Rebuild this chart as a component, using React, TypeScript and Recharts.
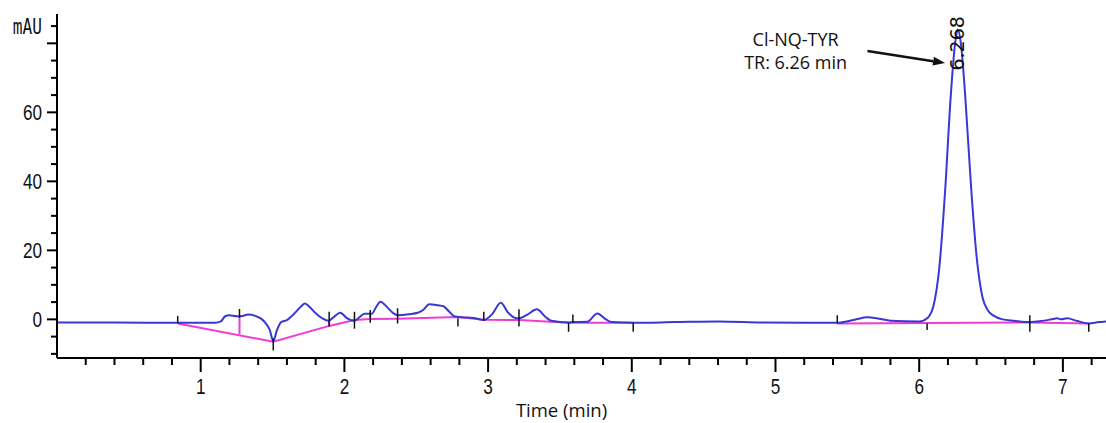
import React from "react";
import { LineChart, Line, XAxis, YAxis, ReferenceLine, ReferenceDot, Label } from "recharts";

// blue detector trace (min, mAU)
const traceTimes = [
  0, 0.4, 0.84, 1.1, 1.14, 1.17, 1.2, 1.25, 1.29, 1.33, 1.38, 1.42, 1.45, 1.48, 1.505, 1.53, 1.56, 1.6,
  1.65, 1.7, 1.725, 1.76, 1.8, 1.85, 1.89, 1.93, 1.97, 2.02, 2.07, 2.11, 2.14, 2.19, 2.22, 2.25, 2.3,
  2.34, 2.37, 2.45, 2.51, 2.55, 2.59, 2.65, 2.69, 2.73, 2.77, 2.82, 2.9, 2.97, 3.03, 3.088, 3.14, 3.19,
  3.215, 3.27, 3.34, 3.4, 3.44, 3.56, 3.59, 3.69, 3.76, 3.82, 3.86, 4.01, 4.3, 4.6, 4.9, 5.2, 5.43,
  5.55, 5.64, 5.72, 5.8, 6.0, 6.06, 6.1, 6.14, 6.18, 6.22, 6.25, 6.268, 6.29, 6.32, 6.36, 6.4, 6.44,
  6.48, 6.52, 6.58, 6.66, 6.77, 6.85, 6.92, 6.96, 6.99, 7.03, 7.1, 7.18, 7.25, 7.3,
];
const traceMau = [
  -0.9, -0.9, -1.0, -1.0, -0.6, 0.9, 1.2, 0.9, 1.0, 1.4, 1.0, 0.2, -1.0, -3.0, -6.3, -3.2, -0.8, -0.2,
  1.6, 3.8, 4.6, 3.5, 1.8, 0.2, -0.4, 0.8, 1.9, 0.3, -0.4, 0.8, 1.6, 1.6, 3.5, 5.1, 3.4,
  1.8, 1.2, 1.5, 1.9, 2.8, 4.4, 4.1, 3.8, 2.2, 0.8, 0.6, 0.4, -0.2, 1.6, 4.8, 1.9, 0.4,
  0.3, 1.3, 2.9, 0.7, -0.4, -0.9, -0.8, -0.7, 1.7, 0.0, -0.8, -1.0, -0.8, -0.6, -0.9, -1.0, -1.0,
  -0.1, 0.6, 0.2, -0.4, -0.6, 0.5, 4.0, 15, 37, 65, 80, 84, 80, 65, 39, 18, 6.5,
  2.5, 1.0, 0.0, -0.4, -0.8, -0.5, 0.0, 0.3, 0.0, 0.3, -0.5, -1.2, -0.8, -0.6,
];

// magenta integration baseline (null = gap)
const baseTimes = [0.84, 1.505, 1.894, 2.07, 2.18, 2.37, 2.79, 2.97, 3.215, 3.56, 4.01, 4.5, 5.43, 6.77, 7.18];
const baseMau = [-1.2, -6.5, -1.9, -0.2, 0.1, 0.2, 0.7, -0.1, -0.2, -1.0, -1.0, null, -1.2, -0.9, -1.2];

// magenta drop lines
const dropTimes = [1.27, 1.894, 2.18];
const dropTop = [0.8, -0.4, 1.5];
const dropBottom = [-4.3, -2.0, -0.3];

// black integration event marks
const eventTimes = [0.84, 1.27, 1.505, 1.894, 2.07, 2.18, 2.37, 2.79, 2.97, 3.215, 3.56, 3.59, 4.01, 5.43, 6.055, 6.77, 7.18];
const eventHigh = [1.0, 3.0, -5.5, 2.2, 2.2, 2.7, 3.2, 0.3, 2.2, 2.9, -1.0, 1.4, -1.0, 1.2, -1.2, 1.2, -1.2];
const eventLow = [-1.2, 0.5, -9.0, -2.1, -2.7, -1.0, -1.2, -2.1, -0.4, -2.1, -3.6, -1.0, -3.6, -1.2, -3.1, -3.6, -3.6];

const xTicks = [
  0.2, 0.4, 0.6, 0.8, 1, 1.2, 1.4, 1.6, 1.8, 2, 2.2, 2.4, 2.6, 2.8, 3, 3.2, 3.4, 3.6,
  3.8, 4, 4.2, 4.4, 4.6, 4.8, 5, 5.2, 5.4, 5.6, 5.8, 6, 6.2, 6.4, 6.6, 6.8, 7, 7.2,
];
const yTicks = [-10, -5, 0, 5, 10, 15, 20, 25, 30, 35, 40, 45, 50, 55, 60, 65, 70, 75, 80, 85];
const yLabels = [0, 20, 40, 60];

const peakTime = 6.268;
const peakLabel = "6.268";
const compoundName = "Cl-NQ-TYR";
const compoundRT = "TR: 6.26 min";

const trace = traceTimes.map((t, i) => ({ t, v: traceMau[i] }));
const baseline = baseTimes.map((t, i) => ({ t, v: baseMau[i] }));

const tickFont = "'Liberation Sans', Arial, sans-serif";

function YTick({ x, y, payload }: any) {
  const v = payload.value;
  const major = v % 20 === 0;
  return (
    <g>
      <line x1={x - (major ? 10 : 6)} x2={x} y1={y} y2={y} stroke="#000" strokeWidth={2} />
      {yLabels.includes(v) ? (
        <g transform={`translate(${x - 15},${y}) scale(0.78,1)`}>
          <text x={0} y={0} dy="0.36em" textAnchor="end" fontSize={22} fontFamily={tickFont} fill="#111">
            {v}
          </text>
        </g>
      ) : null}
      {v === 85 ? (
        <g transform={`translate(${x - 15},${y}) scale(0.85,1.1)`}>
          <text x={0} y={0} dy="0.36em" textAnchor="end" fontSize={19} fontFamily="'DejaVu Sans Mono', monospace" fill="#111">
            mAU
          </text>
        </g>
      ) : null}
    </g>
  );
}

function XTick({ x, y, payload }: any) {
  const v = payload.value;
  const major = Math.abs(v - Math.round(v)) < 1e-6;
  return (
    <g>
      <line x1={x} x2={x} y1={y} y2={y + (major ? 14 : 7)} stroke="#000" strokeWidth={2} />
      {major ? (
        <g transform={`translate(${x},${y + 36}) scale(0.78,1)`}>
          <text x={0} y={0} textAnchor="middle" fontSize={22} fontFamily={tickFont} fill="#111">
            {Math.round(v)}
          </text>
        </g>
      ) : null}
    </g>
  );
}

function Arrow(props: any) {
  const { x1, y1, x2, y2 } = props;
  const ang = Math.atan2(y2 - y1, x2 - x1);
  const L = 12;
  const Wd = 4.5;
  const bx = x2 - L * Math.cos(ang);
  const by = y2 - L * Math.sin(ang);
  const px = -Math.sin(ang) * Wd;
  const py = Math.cos(ang) * Wd;
  return (
    <g>
      <line x1={x1} y1={y1} x2={bx} y2={by} stroke="#111" strokeWidth={2.5} />
      <polygon points={`${x2},${y2} ${bx + px},${by + py} ${bx - px},${by - py}`} fill="#111" />
    </g>
  );
}

const annoFont = "'Open Sans', sans-serif";

export default function App() {
  return (
    <div style={{ position: "absolute", left: 0, top: 0, width: 1106, height: 423, background: "#fff" }}>
      <LineChart width={1106} height={423} margin={{ top: 14, right: 0, bottom: 0, left: 0 }}>
        <XAxis
          dataKey="t"
          type="number"
          domain={[0, 7.3]}
          allowDataOverflow
          ticks={xTicks}
          interval={0}
          tickSize={0}
          tickMargin={0}
          tickLine={false}
          tick={<XTick />}
          height={65}
          axisLine={{ stroke: "#000", strokeWidth: 2 }}
        >
          <Label
            content={({ viewBox }: any) => (
              <text
                x={viewBox.x + viewBox.width / 2 - 20}
                y={viewBox.y + 59}
                textAnchor="middle"
                fontSize={18.5}
                fontFamily={annoFont}
                fill="#111"
              >
                Time (min)
              </text>
            )}
          />
        </XAxis>
        <YAxis
          type="number"
          domain={[-11.2, 88.5]}
          allowDataOverflow
          ticks={yTicks}
          interval={0}
          tickSize={0}
          tickMargin={0}
          tickLine={false}
          tick={<YTick />}
          width={57}
          axisLine={{ stroke: "#000", strokeWidth: 2 }}
        />
        <Line
          data={baseline}
          dataKey="v"
          type="linear"
          stroke="#f03cd2"
          strokeWidth={2}
          dot={false}
          connectNulls={false}
          isAnimationActive={false}
        />
        {dropTimes.map((t, i) => (
          <ReferenceLine
            key={`d${i}`}
            segment={[{ x: t, y: dropTop[i] }, { x: t, y: dropBottom[i] }]}
            stroke="#f03cd2"
            strokeWidth={2}
          />
        ))}
        <Line
          data={trace}
          dataKey="v"
          type="monotone"
          stroke="#3838d4"
          strokeWidth={2}
          dot={false}
          isAnimationActive={false}
        />
        {eventTimes.map((t, i) => (
          <ReferenceLine
            key={`e${i}`}
            segment={[{ x: t, y: eventHigh[i] }, { x: t, y: eventLow[i] }]}
            stroke="#111"
            strokeWidth={1.5}
          />
        ))}
        <ReferenceLine segment={[{ x: 5.64, y: 77.8 }, { x: 6.18, y: 74.3 }]} shape={<Arrow />} />
        <ReferenceDot
          x={5.14}
          y={81.1}
          r={0}
          fill="none"
          stroke="none"
          label={{ value: compoundName, position: "center", fontSize: 18, fontFamily: annoFont, fill: "#111" }}
        />
        <ReferenceDot
          x={5.14}
          y={74.3}
          r={0}
          fill="none"
          stroke="none"
          label={{ value: compoundRT, position: "center", fontSize: 18, fontFamily: annoFont, fill: "#111" }}
        />
        <ReferenceDot
          x={peakTime}
          y={80}
          r={0}
          fill="none"
          stroke="none"
          label={{ value: peakLabel, position: "center", angle: -90, fontSize: 19, fontFamily: "'DejaVu Sans', sans-serif", fill: "#111" }}
        />
      </LineChart>
    </div>
  );
}
